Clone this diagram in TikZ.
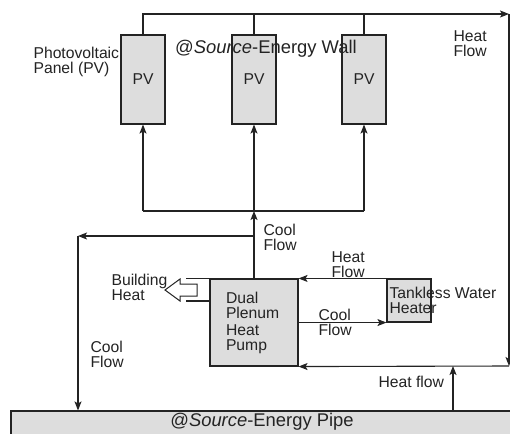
\documentclass[tikz,border=0pt]{standalone}
\usepackage{fontspec}
\setmainfont{Liberation Sans}
\usetikzlibrary{arrows.meta}
\definecolor{boxgray}{RGB}{221,221,221}
\definecolor{inkgray}{RGB}{35,35,35}
\tikzset{
  flow/.style={-{Stealth[length=9pt,width=7pt,inset=2pt]}},
  pvbox/.style={draw, fill=boxgray, minimum width=44pt, minimum height=89pt, inner sep=0pt},
  lbl/.style={align=left, anchor=west, inner sep=0pt},
  smallfont/.style={font=\fontsize{15.7}{15}\selectfont},
  bigfont/.style={font=\fontsize{18.4}{20}\selectfont}
}
\begin{document}
\begin{tikzpicture}[x=1pt, y=-1pt, line width=1.1pt, draw=inkgray, text=inkgray, smallfont]
        \useasboundingbox (0,0) rectangle (510,433);

        % Energy wall panels
        \node[pvbox] (pv1) at (143,79.5) {PV};
        \node[pvbox] (pv2) at (254,79.5) {PV};
        \node[pvbox] (pv3) at (364,79.5) {PV};
        \node[lbl] (pvlabel) at (33,62) {Photovoltaic\\Panel (PV)};
        \node[bigfont, inner sep=0pt] (walllabel) at (266,49) {@\textit{Source}-Energy Wall};

        % Heat pump, water heater and pipe
        \node[draw, fill=boxgray, minimum width=88pt, minimum height=87pt, text width=56pt,
              inner xsep=16pt, align=left] (pump) at (254,322.5) {Dual\\Plenum\\[2pt]Heat\\Pump};
        \node[draw, fill=boxgray, minimum width=44pt, minimum height=43pt] (twh) at (409,300.5) {};
        \node[lbl] (twhlabel) at (389,300) {Tankless Water\\Heater};
        \node[draw, fill=boxgray, minimum width=501pt, minimum height=30pt] (pipe) at (261.5,426) {};
        \node[bigfont, inner sep=0pt] (pipelabel) at (262,422) {@\textit{Source}-Energy Pipe};

        % Heat flow loop
        \coordinate (topright) at (509,14);
        \coordinate (botright) at (509,366);
        \draw[flow] (pv1.north) |- (topright);
        \draw (pv2.north) -- (pv2.north |- topright);
        \draw (pv3.north) -- (pv3.north |- topright);
        \draw[flow] (topright) -- (botright);
        \draw[flow] (botright) -- (pump.south east);
        \node[lbl] (hflabel) at (453,44) {Heat\\Flow};

        % Cool flow to panels
        \coordinate (split) at (254,211);
        \draw (pv1.south |- split) -- (pv3.south |- split);
        \foreach \i in {1,2,3}
            \draw[flow] (pv\i.south |- split) -- (pv\i.south);
        \draw[flow] (pump.north) -- (split);
        \node[lbl] (coollabel) at (263,237) {Cool\\Flow};

        % Cool flow to pipe
        \coordinate (coolleft) at (78,236);
        \draw[flow] (pump.north |- coolleft) -- (coolleft);
        \draw[flow] (coolleft) -- (coolleft |- pipe.north);
        \node[lbl] (pipecoollabel) at (90,354) {Cool\\Flow};

        % Water heater loop
        \draw[flow] (twh.north west) -- (pump.north east);
        \node[lbl] (twhheatlabel) at (331,265) {Heat\\Flow};
        \draw[flow] (pump.east |- twh.south west) -- (twh.south west);
        \node[lbl] (twhcoollabel) at (318,322) {Cool\\Flow};

        % Heat from pipe
        \coordinate (pipeheat) at (453,366);
        \draw[flow] (pipeheat |- pipe.north) -- (pipeheat);
        \node[lbl] (pipeheatlabel) at (378,382) {Heat flow};

        % Building heat
        \draw (pump.north west) -- ++(-23,0);
        \draw (pump.west |- 0,301) -- ++(-23,0);
        \draw[line width=1pt, fill=white] (165,290) -- (180,279) -- (180,284) -- (197,284) -- (197,296)
            -- (180,296) -- (180,301) -- cycle;
        \node[lbl] (bheatlabel) at (111,287) {Building\\Heat};
\end{tikzpicture}
\end{document}
